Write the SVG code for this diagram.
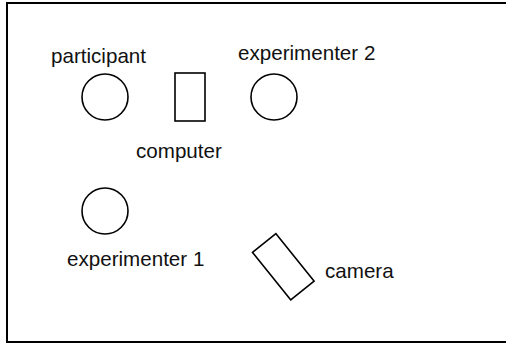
<svg xmlns="http://www.w3.org/2000/svg" width="506" height="344" viewBox="0 0 506 344">
<style>
.s{fill:none;stroke:#000;stroke-width:1.6}
text{font-family:"Liberation Sans",Arial,sans-serif;font-size:20.6px;fill:#111}
</style>
<rect x="0" y="0" width="506" height="344" fill="#fff"/>
<rect id="frame" x="7" y="3" width="520" height="339" fill="none" stroke="#000" stroke-width="2"/>
<g id="participant"><circle class="s" cx="105" cy="97" r="23"/><text x="51" y="63">participant</text></g>
<g id="computer"><rect class="s" x="175" y="73" width="30" height="48"/><text x="136" y="158">computer</text></g>
<g id="experimenter2"><circle class="s" cx="274" cy="97" r="23"/><text x="238" y="60">experimenter 2</text></g>
<g id="experimenter1"><circle class="s" cx="105" cy="211" r="23"/><text x="67" y="266">experimenter 1</text></g>
<g id="camera"><rect class="s" x="-15" y="-30.5" width="30" height="61" transform="translate(283.3 266.8) rotate(-38.8)"/><text x="325" y="278">camera</text></g>
<g id="connectors"/>
</svg>
